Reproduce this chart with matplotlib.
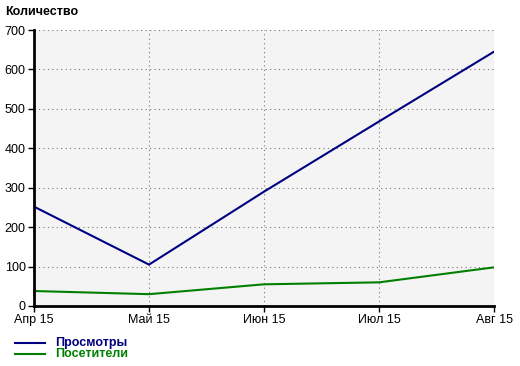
import matplotlib.pyplot as plt
from matplotlib.lines import Line2D

months = ["Апр 15", "Май 15", "Июн 15", "Июл 15", "Авг 15"]
views = [252, 105, 290, 468, 645]
visitors = [38, 30, 55, 60, 98]
yticks = [0, 100, 200, 300, 400, 500, 600, 700]

plt.rcParams["font.family"] = ["Liberation Sans", "DejaVu Sans"]

fig = plt.figure(figsize=(5.2, 3.66), dpi=100)
ax = fig.add_axes([34 / 520, 60 / 366, 460 / 520, 276 / 366])
ax.set_facecolor("#f4f4f4")

x = list(range(len(months)))
ax.plot(x, views, color="#000080", lw=1.5)
ax.plot(x, visitors, color="#008000", lw=1.5)

ax.set_xlim(0, len(months) - 1)
ax.set_ylim(0, 700)
ax.set_xticks(x)
ax.set_xticklabels(months)
ax.set_yticks(yticks)

ax.grid(True, color="#777777", linestyle=(0, (1, 3)), lw=0.8)
for s in ["top", "right"]:
    ax.spines[s].set_visible(False)
for s in ["left", "bottom"]:
    ax.spines[s].set_linewidth(2)
ax.tick_params(direction="out", length=4, width=1, labelsize=9, pad=2)

fig.text(5 / 520, 1 - 12 / 366, "Количество", fontsize=9, fontweight="bold", va="center")

# legend
for i, (name, col) in enumerate([("Просмотры", "#000080"), ("Посетители", "#008000")]):
    yy = 1 - (343 + i * 11) / 366
    fig.add_artist(Line2D([15 / 520, 45 / 520], [yy, yy], color=col, lw=1.5,
                          transform=fig.transFigure))
    fig.text(55 / 520, yy, name, color=col, fontsize=9, fontweight="bold", va="center")

fig.savefig("out.png", dpi=100)
